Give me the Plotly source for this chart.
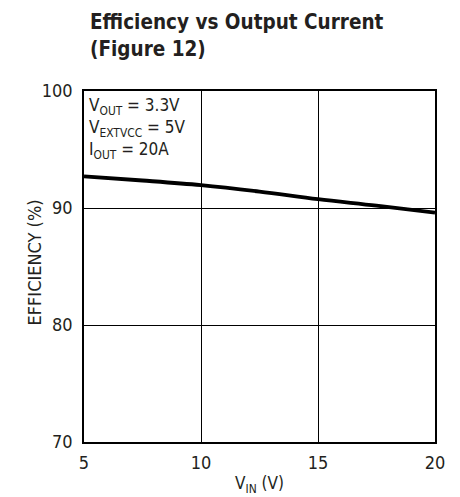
import plotly.graph_objects as go

vin = [5, 7.5, 10, 12.5, 15, 17.5, 20]
efficiency = [92.7, 92.35, 91.95, 91.4, 90.75, 90.2, 89.6]
x_ticks = [5, 10, 15, 20]
y_ticks = [70, 80, 90, 100]

FONT = "DejaVu Sans Condensed, Liberation Sans Narrow, Liberation Sans, sans-serif"

fig = go.Figure()
fig.add_trace(go.Scatter(x=vin, y=efficiency, mode="lines",
                         line=dict(color="black", width=3.8, shape="spline"),
                         showlegend=False, hoverinfo="skip"))

fig.update_layout(
    width=460, height=497,
    margin=dict(l=76, r=33, t=83, b=63, autoexpand=False),
    paper_bgcolor="white", plot_bgcolor="white",
    font=dict(family=FONT, color="#231f20", size=16),
    xaxis=dict(range=[5, 20], tickvals=x_ticks, ticks="", showgrid=True,
               gridcolor="black", gridwidth=1, showline=True, linecolor="black",
               linewidth=1.5, mirror=True, zeroline=False, automargin=False,
               tickfont=dict(size=18), ticklabelstandoff=4,
               title=dict(text="V<sub>IN</sub> (V)", font=dict(size=17), standoff=5)),
    yaxis=dict(range=[70, 100], tickvals=y_ticks, ticks="", showgrid=True,
               gridcolor="black", gridwidth=1, showline=True, linecolor="black",
               linewidth=1.5, mirror=True, zeroline=False, automargin=False,
               tickfont=dict(size=18), ticklabelstandoff=6),
    annotations=[
        dict(text="<b>Efficiency vs Output Current<br>(Figure 12)</b>",
             xref="paper", yref="paper", x=0, y=1, xshift=4, yshift=83,
             xanchor="left", yanchor="top", showarrow=False, align="left",
             font=dict(size=20.5, family=FONT, color="#231f20")),
        dict(text="EFFICIENCY (%)", textangle=-90,
             xref="paper", yref="paper", x=0, y=0.5, xshift=-50, yshift=4,
             xanchor="center", yanchor="middle", showarrow=False,
             font=dict(size=18, family=FONT, color="#231f20")),
        dict(text="V<sub>OUT</sub> = 3.3V<br>V<sub>EXTVCC</sub> = 5V<br>I<sub>OUT</sub> = 20A",
             xref="x", yref="y", x=5, y=100, xanchor="left", yanchor="top",
             xshift=3, yshift=-2, showarrow=False, align="left",
             font=dict(size=17, family=FONT, color="#231f20")),
    ],
)

fig.write_html("out.html")
